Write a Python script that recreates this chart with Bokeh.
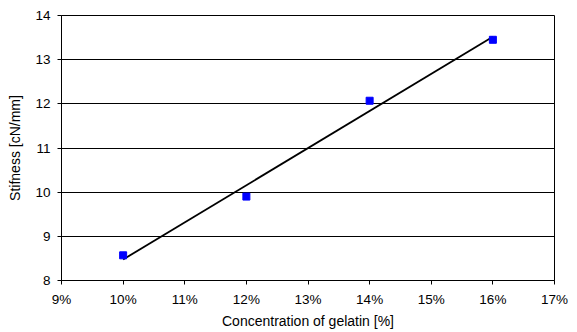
import numpy as np
from bokeh.plotting import figure
from bokeh.models import FixedTicker, PrintfTickFormatter, Range1d
from bokeh.embed import file_html
from bokeh.resources import INLINE

concentration = [10, 12, 14, 16]          # gelatin concentration [%]
stiffness = [8.57, 9.90, 12.07, 13.45]    # stiffness [cN/mm]
x_ticks = [9, 10, 11, 12, 13, 14, 15, 16, 17]
y_ticks = [8, 9, 10, 11, 12, 13, 14]

# linear trend line through the measurements
slope, intercept = np.polyfit(concentration, stiffness, 1)
trend_x = [concentration[0], concentration[-1]]
trend_y = [slope * v + intercept for v in trend_x]

p = figure(width=577, height=332, output_backend="svg", toolbar_location=None,
           x_range=Range1d(9, 17), y_range=Range1d(8, 14),
           min_border_left=61, min_border_right=23, min_border_top=15, min_border_bottom=52)
p.background_fill_color = "white"
p.border_fill_color = "white"
p.outline_line_color = "black"
p.outline_line_width = 1

p.xgrid.visible = False
p.ygrid.grid_line_color = "black"
p.ygrid.grid_line_width = 1
p.ygrid.ticker = FixedTicker(ticks=y_ticks)

for ax in (p.xaxis[0], p.yaxis[0]):
    ax.axis_line_color = "black"
    ax.major_tick_line_color = "black"
    ax.major_tick_out = 4
    ax.major_tick_in = 0
    ax.minor_tick_line_color = None
    ax.major_label_text_font = "Liberation Sans"
    ax.major_label_text_font_size = "13.5px"
    ax.major_label_text_color = "black"
    ax.axis_label_text_font = "Liberation Sans"
    ax.axis_label_text_font_size = "14px"
    ax.axis_label_text_font_style = "normal"
    ax.axis_label_text_color = "black"

p.xaxis.ticker = FixedTicker(ticks=x_ticks)
p.xaxis.formatter = PrintfTickFormatter(format="%d%%")
p.xaxis.axis_label = "Concentration of gelatin [%]"
p.xaxis.major_label_standoff = 7
p.xaxis.axis_label_standoff = 3

p.yaxis.ticker = FixedTicker(ticks=y_ticks)
p.yaxis.axis_label = "Stifness [cN/mm]"
p.yaxis.major_label_standoff = 7
p.yaxis.axis_label_standoff = 9

p.line(trend_x, trend_y, line_color="black", line_width=1.8)
p.scatter(concentration, stiffness, marker="square", size=7,
          fill_color="#0000FF", line_color="#0000FF")

open("out.html", "w").write(file_html(p, INLINE))
